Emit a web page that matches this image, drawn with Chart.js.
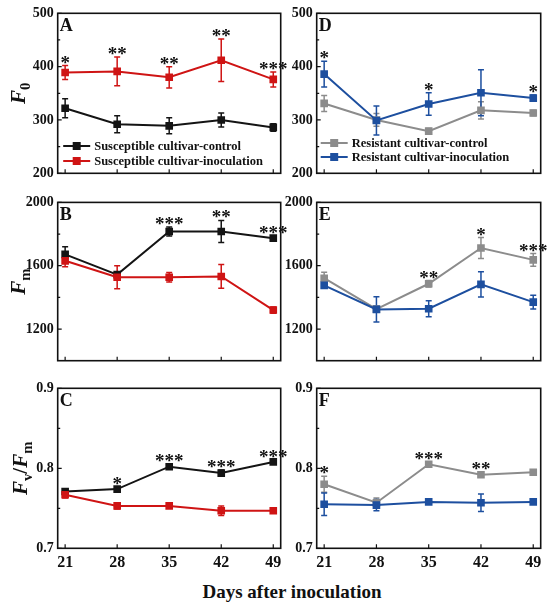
<!DOCTYPE html>
<html>
<head>
<meta charset="utf-8">
<script src="https://cdn.jsdelivr.net/npm/chart.js@4.4.1/dist/chart.umd.min.js"></script>
<style>
body { margin: 0; background: #fff; width: 550px; height: 607px; position: relative; overflow: hidden; }
canvas { position: absolute; }
#eixoX { position: absolute; left: 32px; width: 520px; top: 581px; text-align: center;
  font: bold 19px "Liberation Serif", "Times New Roman", serif; color: #111; }
</style>
</head>
<body>
<canvas id="gA" style="left:0;top:0"></canvas>
<canvas id="gD" style="left:275px;top:0"></canvas>
<canvas id="gB" style="left:0;top:190px"></canvas>
<canvas id="gE" style="left:275px;top:190px"></canvas>
<canvas id="gC" style="left:0;top:375px"></canvas>
<canvas id="gF" style="left:275px;top:375px"></canvas>
<div id="eixoX">Days after inoculation</div>
<script>
const dias = [21, 28, 35, 42, 49];

// F0
const f0SuscControle = [322, 292, 289, 300, 286];
const f0SuscControleErro = [18, 16, 15, 13, 7];
const f0SuscInoc = [389, 391, 380, 412, 376];
const f0SuscInocErro = [13, 27, 20, 40, 14];
const f0ResControle = [331, 300, 279, 318, 313];
const f0ResControleErro = [15, 12, 5, 16, 5];
const f0ResInoc = [386, 299, 330, 351, 341];
const f0ResInocErro = [24, 27, 21, 43, 6];

// Fm
const fmSuscControle = [1672, 1544, 1816, 1816, 1774];
const fmSuscControleErro = [48, 15, 28, 70, 15];
const fmSuscInoc = [1631, 1527, 1527, 1532, 1320];
const fmSuscInocErro = [37, 73, 30, 75, 20];
const fmResControle = [1521, 1326, 1486, 1712, 1637];
const fmResControleErro = [37, 20, 20, 66, 40];
const fmResInoc = [1476, 1324, 1328, 1482, 1370];
const fmResInocErro = [15, 80, 50, 80, 43];

// Fv/Fm
const fvSuscControle = [0.771, 0.774, 0.802, 0.794, 0.808];
const fvSuscControleErro = [0.002, 0.003, 0.003, 0.004, 0.003];
const fvSuscInoc = [0.767, 0.753, 0.753, 0.747, 0.747];
const fvSuscInocErro = [0.004, 0.004, 0.003, 0.006, 0.003];
const fvResControle = [0.780, 0.757, 0.805, 0.792, 0.795];
const fvResControleErro = [0.010, 0.006, 0.003, 0.003, 0.003];
const fvResInoc = [0.755, 0.754, 0.758, 0.757, 0.758];
const fvResInocErro = [0.014, 0.007, 0.003, 0.011, 0.003];

// asteriscos de significancia
const estrelasA = ["*", "**", "**", "**", "***"];
const estrelasB = ["", "", "***", "**", "***"];
const estrelasC = ["", "*", "***", "***", "***"];
const estrelasD = ["*", "", "*", "", "*"];
const estrelasE = ["", "", "**", "*", "***"];
const estrelasF = ["*", "", "***", "**", ""];

const nomesSusc = ["Susceptible cultivar-control", "Susceptible cultivar-inoculation"];
const nomesRes = ["Resistant cultivar-control", "Resistant cultivar-inoculation"];

const PRETO = "#141414";
const VERMELHO = "#cf1414";
const CINZA = "#8c8c8c";
const AZUL = "#1d4f9f";
const SERIF = '"Liberation Serif", "Times New Roman", serif';

function escreverRico(ctx, partes, x, y, tam) {
    // mede primeiro para centralizar
    let total = 0;
    partes.forEach(p => {
        ctx.font = (p.ital ? "italic " : "") + "bold " + (p.sub ? tam * 0.7 : tam) + "px " + SERIF;
        p.w = ctx.measureText(p.t).width;
        total += p.w;
    });
    let cx = x - total / 2;
    partes.forEach(p => {
        ctx.font = (p.ital ? "italic " : "") + "bold " + (p.sub ? tam * 0.7 : tam) + "px " + SERIF;
        ctx.fillText(p.t, cx, y + (p.sub ? tam * 0.25 : 0));
        cx += p.w;
    });
}

const pluginPainel = {
    id: "painel",
    beforeDatasetsDraw(chart, args, o) {
        const ctx = chart.ctx;
        const ys = chart.scales.y;
        ctx.save();
        chart.data.datasets.forEach((ds, i) => {
            const meta = chart.getDatasetMeta(i);
            ctx.strokeStyle = ds.borderColor;
            ctx.lineWidth = 1.5;
            meta.data.forEach((pt, j) => {
                const v = ds.data[j].y, e = o.erros[i][j];
                const y1 = ys.getPixelForValue(v + e), y2 = ys.getPixelForValue(v - e);
                ctx.beginPath();
                ctx.moveTo(pt.x, y1); ctx.lineTo(pt.x, y2);
                ctx.moveTo(pt.x - 3, y1); ctx.lineTo(pt.x + 3, y1);
                ctx.moveTo(pt.x - 3, y2); ctx.lineTo(pt.x + 3, y2);
                ctx.stroke();
            });
        });
        ctx.restore();
    },
    afterDatasetsDraw(chart, args, o) {
        const ctx = chart.ctx;
        const a = chart.chartArea;
        const xs = chart.scales.x, ys = chart.scales.y;
        ctx.save();
        // moldura
        ctx.strokeStyle = "#111";
        ctx.lineWidth = 1.6;
        ctx.strokeRect(a.left, a.top, a.right - a.left, a.bottom - a.top);
        // marcas internas
        ctx.lineWidth = 1.2;
        ctx.beginPath();
        dias.forEach(d => {
            const px = xs.getPixelForValue(d);
            ctx.moveTo(px, a.bottom); ctx.lineTo(px, a.bottom - 4);
        });
        o.maiores.forEach(v => {
            const py = ys.getPixelForValue(v);
            ctx.moveTo(a.left, py); ctx.lineTo(a.left + 4, py);
        });
        o.menores.forEach(v => {
            const py = ys.getPixelForValue(v);
            ctx.moveTo(a.left, py); ctx.lineTo(a.left + 2.5, py);
        });
        ctx.stroke();

        ctx.fillStyle = "#111";
        // letra do painel
        ctx.font = "bold 18px " + SERIF;
        ctx.textAlign = "left";
        ctx.textBaseline = "middle";
        ctx.fillText(o.letra, a.left + 2, a.top + 13);

        // asteriscos
        ctx.font = "bold 19px " + SERIF;
        ctx.textAlign = "center";
        ctx.textBaseline = "alphabetic";
        o.estrelas.forEach((s, j) => {
            if (!s) return;
            let topo = -Infinity;
            chart.data.datasets.forEach((ds, i) => {
                topo = Math.max(topo, ds.data[j].y + o.erros[i][j]);
            });
            const px = xs.getPixelForValue(dias[j]);
            const py = ys.getPixelForValue(topo);
            ctx.fillText(s, px, py + 3);
        });

        // legenda
        if (o.legenda) {
            const L = o.legenda;
            ctx.font = "bold 12.5px " + SERIF;
            ctx.textAlign = "left";
            ctx.textBaseline = "middle";
            chart.data.datasets.forEach((ds, i) => {
                const y = a.top + L.y[i];
                const x0 = a.left + L.x;
                ctx.strokeStyle = ds.borderColor;
                ctx.lineWidth = 2;
                ctx.beginPath(); ctx.moveTo(x0, y); ctx.lineTo(x0 + 27, y); ctx.stroke();
                ctx.fillStyle = ds.borderColor;
                ctx.fillRect(x0 + 13.5 - 4, y - 4, 8, 8);
                ctx.fillStyle = "#111";
                ctx.fillText(ds.label, x0 + 31, y + 0.5);
            });
        }

        // titulo do eixo y
        if (o.tituloY) {
            ctx.fillStyle = "#111";
            ctx.translate(o.tituloY.x, (a.top + a.bottom) / 2);
            ctx.rotate(-Math.PI / 2);
            ctx.textAlign = "left";
            ctx.textBaseline = "alphabetic";
            escreverRico(ctx, o.tituloY.partes, 0, 7, 21);
        }
        ctx.restore();
    }
};

function criarPainel(id, p) {
    const el = document.getElementById(id);
    el.width = p.largura;
    el.height = p.altura;
    el.style.width = p.largura + "px";
    el.style.height = p.altura + "px";
    const conjuntos = p.series.map((s, i) => ({
        label: p.nomes[i],
        data: dias.map((d, j) => ({ x: d, y: s[j] })),
        borderColor: p.cores[i],
        backgroundColor: p.cores[i],
        borderWidth: 2,
        pointStyle: "rect",
        pointRadius: 5.4,
        pointBorderWidth: 0,
        tension: 0,
        order: p.series.length - i
    }));
    return new Chart(el, {
        type: "line",
        data: { datasets: conjuntos },
        options: {
            responsive: false,
            animation: false,
            events: [],
            layout: { padding: { top: p.topo, right: p.direita, left: 0, bottom: 0 } },
            plugins: {
                legend: { display: false },
                tooltip: { enabled: false },
                painel: {
                    erros: p.erros,
                    letra: p.letra,
                    estrelas: p.estrelas,
                    maiores: p.maiores,
                    menores: p.menores,
                    legenda: p.legenda,
                    tituloY: p.tituloY
                }
            },
            scales: {
                x: {
                    type: "linear",
                    min: 20,
                    max: 50,
                    grid: { display: false, drawTicks: false },
                    border: { display: false },
                    afterBuildTicks: s => { s.ticks = dias.map(v => ({ value: v })); },
                    afterFit: s => { s.height = p.alturaX; },
                    ticks: {
                        display: p.mostrarX,
                        padding: 5,
                        color: "#111",
                        font: { family: SERIF, size: 16, weight: "bold" }
                    }
                },
                y: {
                    type: "linear",
                    min: p.yMin,
                    max: p.yMax,
                    grid: { display: false, drawTicks: false },
                    border: { display: false },
                    afterBuildTicks: s => { s.ticks = p.maiores.map(v => ({ value: v })); },
                    afterFit: s => { s.width = p.larguraY; },
                    ticks: {
                        padding: 4,
                        color: "#111",
                        font: { family: SERIF, size: 14, weight: "bold" },
                        callback: v => p.casas ? v.toFixed(p.casas) : String(v)
                    }
                }
            }
        },
        plugins: [pluginPainel]
    });
}

const tituloF0 = [{ t: "F", ital: true }, { t: "0", sub: true }];
const tituloFm = [{ t: "F", ital: true }, { t: "m", sub: true }];
const tituloFv = [{ t: "F", ital: true }, { t: "v", sub: true }, { t: "/" }, { t: "F", ital: true }, { t: "m", sub: true }];

const esquerda = { largura: 290, larguraY: 57.7, direita: 9.3 };
const direita = { largura: 275, larguraY: 41.7, direita: 9.3 };

criarPainel("gA", Object.assign({}, esquerda, {
    altura: 190, topo: 13.3, alturaX: 16.7, mostrarX: false,
    series: [f0SuscControle, f0SuscInoc], erros: [f0SuscControleErro, f0SuscInocErro],
    nomes: nomesSusc, cores: [PRETO, VERMELHO], letra: "A", estrelas: estrelasA,
    yMin: 200, yMax: 500, maiores: [200, 300, 400, 500], menores: [250, 350, 450],
    legenda: { x: 5.5, y: [132.7, 147.7] },
    tituloY: { x: 18, partes: tituloF0 }
}));
criarPainel("gD", Object.assign({}, direita, {
    altura: 190, topo: 13.3, alturaX: 16.7, mostrarX: false,
    series: [f0ResControle, f0ResInoc], erros: [f0ResControleErro, f0ResInocErro],
    nomes: nomesRes, cores: [CINZA, AZUL], letra: "D", estrelas: estrelasD,
    yMin: 200, yMax: 500, maiores: [200, 300, 400, 500], menores: [250, 350, 450],
    legenda: { x: 4, y: [129.7, 143.7] }
}));
criarPainel("gB", Object.assign({}, esquerda, {
    altura: 190, topo: 10, alturaX: 19.3, mostrarX: false,
    series: [fmSuscControle, fmSuscInoc], erros: [fmSuscControleErro, fmSuscInocErro],
    nomes: nomesSusc, cores: [PRETO, VERMELHO], letra: "B", estrelas: estrelasB,
    yMin: 1000, yMax: 2000, maiores: [1200, 1600, 2000], menores: [1400, 1800],
    tituloY: { x: 18, partes: tituloFm }
}));
criarPainel("gE", Object.assign({}, direita, {
    altura: 190, topo: 10, alturaX: 19.3, mostrarX: false,
    series: [fmResControle, fmResInoc], erros: [fmResControleErro, fmResInocErro],
    nomes: nomesRes, cores: [CINZA, AZUL], letra: "E", estrelas: estrelasE,
    yMin: 1000, yMax: 2000, maiores: [1200, 1600, 2000], menores: [1400, 1800]
}));
criarPainel("gC", Object.assign({}, esquerda, {
    altura: 200, topo: 13.3, alturaX: 26.7, mostrarX: true, casas: 1,
    series: [fvSuscControle, fvSuscInoc], erros: [fvSuscControleErro, fvSuscInocErro],
    nomes: nomesSusc, cores: [PRETO, VERMELHO], letra: "C", estrelas: estrelasC,
    yMin: 0.7, yMax: 0.9, maiores: [0.7, 0.8, 0.9], menores: [0.75, 0.85],
    tituloY: { x: 20, partes: tituloFv }
}));
criarPainel("gF", Object.assign({}, direita, {
    altura: 200, topo: 13.3, alturaX: 26.7, mostrarX: true, casas: 1,
    series: [fvResControle, fvResInoc], erros: [fvResControleErro, fvResInocErro],
    nomes: nomesRes, cores: [CINZA, AZUL], letra: "F", estrelas: estrelasF,
    yMin: 0.7, yMax: 0.9, maiores: [0.7, 0.8, 0.9], menores: [0.75, 0.85]
}));
</script>
</body>
</html>
